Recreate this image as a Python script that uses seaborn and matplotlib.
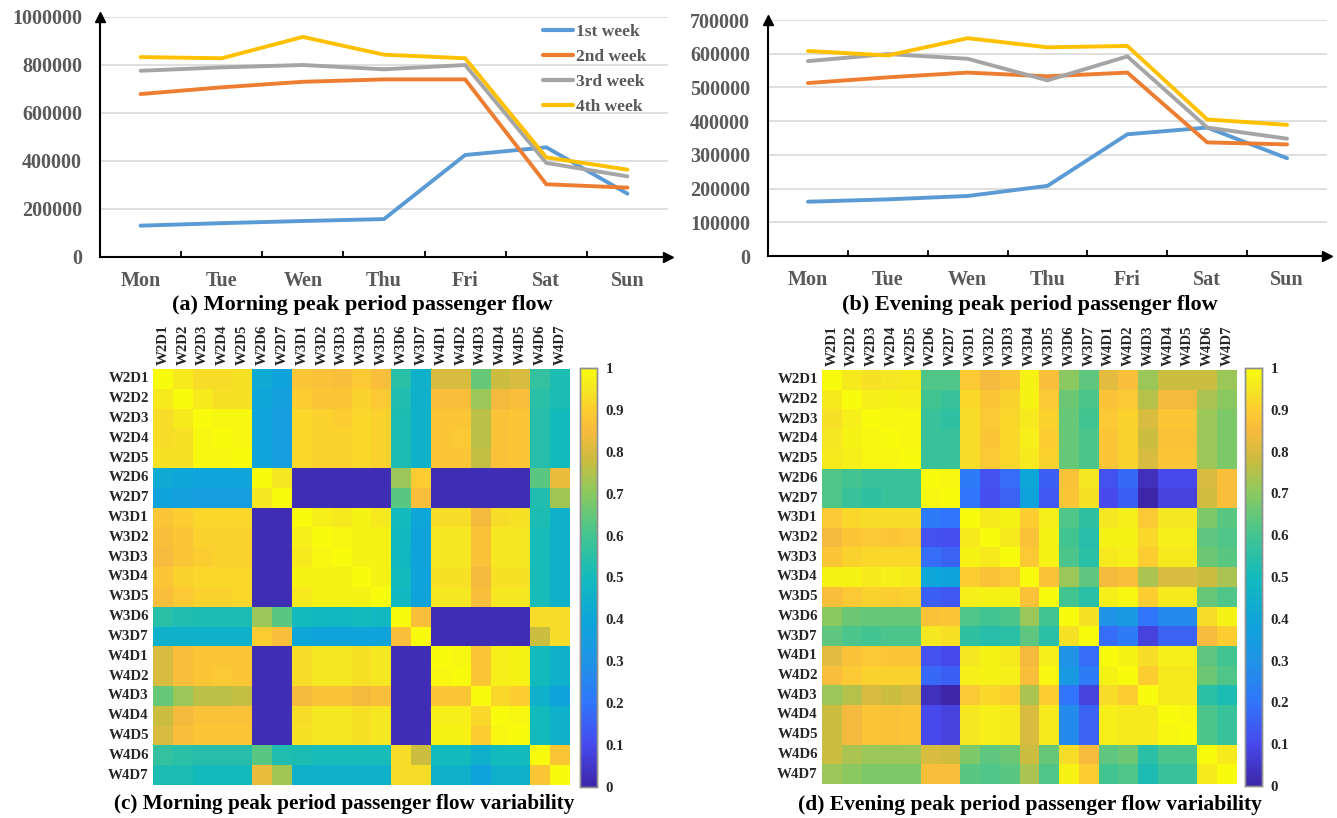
import numpy as np
import pandas as pd
import matplotlib
matplotlib.use("Agg")
import matplotlib.pyplot as plt
from matplotlib.colors import LinearSegmentedColormap
from matplotlib.ticker import FixedLocator
import seaborn as sns

# ---------------- data ----------------
days = ["Mon", "Tue", "Wen", "Thu", "Fri", "Sat", "Sun"]
weeks = ["1st week", "2nd week", "3rd week", "4th week"]

morning_w1 = [130600, 141000, 150000, 158000, 425000, 457000, 264000]
morning_w2 = [679000, 707000, 730000, 740000, 740000, 303000, 289000]
morning_w3 = [776000, 790000, 800000, 782000, 800000, 392000, 336000]
morning_w4 = [833000, 828000, 917000, 843000, 828000, 415000, 364000]

evening_w1 = [161000, 168000, 178000, 208000, 361000, 381000, 290000]
evening_w2 = [513000, 530000, 544000, 533000, 544000, 337000, 331000]
evening_w3 = [578000, 599000, 585000, 521000, 592000, 381000, 348000]
evening_w4 = [608000, 595000, 646000, 619000, 623000, 405000, 389000]

cell_labels = ["W2D1", "W2D2", "W2D3", "W2D4", "W2D5", "W2D6", "W2D7",
               "W3D1", "W3D2", "W3D3", "W3D4", "W3D5", "W3D6", "W3D7",
               "W4D1", "W4D2", "W4D3", "W4D4", "W4D5", "W4D6", "W4D7"]

morning_corr = [
    [1.00, 0.96, 0.93, 0.93, 0.94, 0.42, 0.38, 0.88, 0.87, 0.86, 0.89, 0.86, 0.55, 0.45, 0.80, 0.80, 0.65, 0.78, 0.80, 0.57, 0.52],
    [0.96, 1.00, 0.96, 0.94, 0.94, 0.40, 0.36, 0.90, 0.88, 0.88, 0.91, 0.89, 0.53, 0.45, 0.86, 0.86, 0.72, 0.84, 0.86, 0.55, 0.52],
    [0.93, 0.96, 1.00, 0.99, 0.99, 0.39, 0.35, 0.92, 0.91, 0.90, 0.92, 0.91, 0.52, 0.45, 0.88, 0.88, 0.76, 0.87, 0.88, 0.54, 0.50],
    [0.93, 0.94, 0.99, 1.00, 0.99, 0.39, 0.35, 0.92, 0.91, 0.91, 0.92, 0.91, 0.52, 0.45, 0.88, 0.89, 0.76, 0.87, 0.88, 0.54, 0.50],
    [0.94, 0.94, 0.99, 0.99, 1.00, 0.39, 0.35, 0.92, 0.91, 0.91, 0.92, 0.91, 0.52, 0.45, 0.88, 0.88, 0.77, 0.87, 0.88, 0.54, 0.50],
    [0.42, 0.40, 0.39, 0.39, 0.39, 1.00, 0.95, 0.02, 0.02, 0.02, 0.02, 0.02, 0.72, 0.90, 0.02, 0.02, 0.02, 0.02, 0.02, 0.63, 0.83],
    [0.38, 0.36, 0.35, 0.35, 0.35, 0.95, 1.00, 0.02, 0.02, 0.02, 0.02, 0.02, 0.63, 0.86, 0.02, 0.02, 0.02, 0.02, 0.02, 0.53, 0.73],
    [0.88, 0.90, 0.92, 0.92, 0.92, 0.02, 0.02, 1.00, 0.97, 0.96, 0.98, 0.96, 0.50, 0.40, 0.93, 0.93, 0.84, 0.93, 0.94, 0.52, 0.45],
    [0.86, 0.88, 0.91, 0.91, 0.91, 0.02, 0.02, 0.97, 1.00, 0.99, 0.98, 0.98, 0.49, 0.38, 0.95, 0.95, 0.87, 0.95, 0.95, 0.51, 0.45],
    [0.85, 0.88, 0.90, 0.91, 0.91, 0.02, 0.02, 0.96, 0.99, 1.00, 0.98, 0.98, 0.48, 0.38, 0.95, 0.95, 0.87, 0.95, 0.95, 0.51, 0.45],
    [0.88, 0.91, 0.92, 0.92, 0.92, 0.02, 0.02, 0.98, 0.98, 0.98, 1.00, 0.98, 0.50, 0.38, 0.94, 0.94, 0.84, 0.94, 0.94, 0.51, 0.45],
    [0.86, 0.89, 0.91, 0.91, 0.92, 0.02, 0.02, 0.96, 0.98, 0.98, 0.98, 1.00, 0.49, 0.38, 0.95, 0.95, 0.86, 0.95, 0.95, 0.51, 0.45],
    [0.55, 0.53, 0.52, 0.52, 0.52, 0.72, 0.63, 0.50, 0.49, 0.48, 0.50, 0.49, 1.00, 0.86, 0.02, 0.02, 0.02, 0.02, 0.02, 0.93, 0.93],
    [0.45, 0.45, 0.45, 0.45, 0.45, 0.90, 0.86, 0.40, 0.38, 0.38, 0.38, 0.38, 0.86, 1.00, 0.02, 0.02, 0.02, 0.02, 0.02, 0.78, 0.93],
    [0.80, 0.86, 0.88, 0.88, 0.88, 0.02, 0.02, 0.93, 0.95, 0.95, 0.94, 0.95, 0.02, 0.02, 1.00, 0.99, 0.88, 0.97, 0.98, 0.50, 0.45],
    [0.80, 0.86, 0.88, 0.89, 0.88, 0.02, 0.02, 0.93, 0.95, 0.95, 0.94, 0.95, 0.02, 0.02, 0.99, 1.00, 0.88, 0.97, 0.98, 0.50, 0.45],
    [0.65, 0.72, 0.76, 0.76, 0.77, 0.02, 0.02, 0.84, 0.87, 0.87, 0.84, 0.86, 0.02, 0.02, 0.88, 0.88, 1.00, 0.92, 0.90, 0.45, 0.38],
    [0.78, 0.84, 0.87, 0.87, 0.87, 0.02, 0.02, 0.93, 0.95, 0.95, 0.94, 0.95, 0.02, 0.02, 0.97, 0.97, 0.92, 1.00, 0.99, 0.50, 0.45],
    [0.80, 0.86, 0.88, 0.88, 0.88, 0.02, 0.02, 0.94, 0.95, 0.95, 0.94, 0.95, 0.02, 0.02, 0.98, 0.98, 0.90, 0.99, 1.00, 0.50, 0.45],
    [0.57, 0.55, 0.54, 0.54, 0.54, 0.63, 0.53, 0.52, 0.51, 0.51, 0.51, 0.51, 0.93, 0.78, 0.50, 0.50, 0.45, 0.50, 0.50, 1.00, 0.88],
    [0.52, 0.52, 0.50, 0.50, 0.50, 0.83, 0.73, 0.45, 0.45, 0.45, 0.45, 0.45, 0.93, 0.93, 0.45, 0.45, 0.38, 0.45, 0.45, 0.88, 1.00],
]

evening_corr = [
    [1.00, 0.96, 0.94, 0.95, 0.96, 0.62, 0.62, 0.89, 0.84, 0.88, 0.98, 0.86, 0.70, 0.64, 0.82, 0.86, 0.72, 0.78, 0.78, 0.78, 0.72],
    [0.96, 1.00, 0.97, 0.98, 0.97, 0.60, 0.58, 0.92, 0.88, 0.91, 0.98, 0.89, 0.66, 0.61, 0.87, 0.89, 0.75, 0.84, 0.84, 0.74, 0.70],
    [0.94, 0.97, 1.00, 0.99, 0.99, 0.58, 0.56, 0.93, 0.89, 0.92, 0.96, 0.91, 0.65, 0.60, 0.89, 0.91, 0.80, 0.88, 0.88, 0.72, 0.68],
    [0.95, 0.98, 0.99, 1.00, 0.99, 0.58, 0.58, 0.93, 0.88, 0.92, 0.97, 0.90, 0.65, 0.61, 0.88, 0.91, 0.78, 0.87, 0.87, 0.72, 0.68],
    [0.96, 0.97, 0.99, 0.99, 1.00, 0.58, 0.58, 0.93, 0.89, 0.92, 0.96, 0.91, 0.65, 0.61, 0.88, 0.91, 0.80, 0.88, 0.88, 0.72, 0.68],
    [0.62, 0.60, 0.58, 0.58, 0.58, 1.00, 0.99, 0.22, 0.12, 0.18, 0.40, 0.15, 0.87, 0.95, 0.12, 0.17, 0.03, 0.10, 0.10, 0.80, 0.86],
    [0.62, 0.58, 0.56, 0.58, 0.58, 0.99, 1.00, 0.20, 0.11, 0.16, 0.38, 0.13, 0.88, 0.94, 0.10, 0.15, 0.00, 0.08, 0.08, 0.79, 0.86],
    [0.89, 0.92, 0.93, 0.93, 0.93, 0.22, 0.20, 1.00, 0.96, 0.98, 0.90, 0.97, 0.62, 0.56, 0.95, 0.97, 0.89, 0.95, 0.95, 0.68, 0.63],
    [0.84, 0.88, 0.89, 0.88, 0.89, 0.12, 0.11, 0.96, 1.00, 0.96, 0.87, 0.98, 0.60, 0.54, 0.98, 0.98, 0.92, 0.97, 0.97, 0.64, 0.62],
    [0.88, 0.91, 0.92, 0.92, 0.92, 0.18, 0.16, 0.98, 0.96, 1.00, 0.89, 0.98, 0.61, 0.55, 0.96, 0.97, 0.90, 0.96, 0.96, 0.66, 0.63],
    [0.98, 0.98, 0.96, 0.97, 0.96, 0.40, 0.38, 0.90, 0.87, 0.89, 1.00, 0.87, 0.72, 0.64, 0.84, 0.86, 0.74, 0.80, 0.80, 0.78, 0.74],
    [0.86, 0.89, 0.91, 0.90, 0.91, 0.15, 0.13, 0.97, 0.98, 0.98, 0.87, 1.00, 0.60, 0.55, 0.97, 0.99, 0.90, 0.96, 0.96, 0.65, 0.62],
    [0.70, 0.66, 0.65, 0.65, 0.65, 0.87, 0.88, 0.62, 0.60, 0.61, 0.72, 0.60, 1.00, 0.94, 0.30, 0.33, 0.20, 0.27, 0.27, 0.93, 0.98],
    [0.64, 0.61, 0.60, 0.61, 0.61, 0.95, 0.94, 0.56, 0.54, 0.55, 0.64, 0.55, 0.94, 1.00, 0.18, 0.22, 0.08, 0.16, 0.16, 0.85, 0.90],
    [0.82, 0.87, 0.89, 0.88, 0.88, 0.12, 0.10, 0.95, 0.98, 0.96, 0.84, 0.97, 0.30, 0.18, 1.00, 0.98, 0.93, 0.97, 0.97, 0.64, 0.60],
    [0.86, 0.89, 0.91, 0.91, 0.91, 0.17, 0.15, 0.97, 0.98, 0.97, 0.86, 0.99, 0.33, 0.22, 0.98, 1.00, 0.90, 0.96, 0.96, 0.66, 0.62],
    [0.72, 0.75, 0.80, 0.78, 0.80, 0.03, 0.00, 0.89, 0.92, 0.90, 0.74, 0.90, 0.20, 0.08, 0.93, 0.90, 1.00, 0.96, 0.96, 0.55, 0.52],
    [0.78, 0.84, 0.88, 0.87, 0.88, 0.10, 0.08, 0.95, 0.97, 0.96, 0.80, 0.96, 0.27, 0.16, 0.97, 0.96, 0.96, 1.00, 0.99, 0.61, 0.58],
    [0.78, 0.84, 0.88, 0.87, 0.88, 0.10, 0.08, 0.95, 0.97, 0.96, 0.80, 0.96, 0.27, 0.16, 0.97, 0.96, 0.96, 0.99, 1.00, 0.61, 0.58],
    [0.78, 0.74, 0.72, 0.72, 0.72, 0.80, 0.79, 0.68, 0.64, 0.66, 0.78, 0.65, 0.93, 0.85, 0.64, 0.66, 0.55, 0.61, 0.61, 1.00, 0.96],
    [0.72, 0.70, 0.68, 0.68, 0.68, 0.86, 0.86, 0.63, 0.62, 0.63, 0.74, 0.62, 0.98, 0.90, 0.60, 0.62, 0.52, 0.58, 0.58, 0.96, 1.00],
]

cbar_ticks = [0, 0.1, 0.2, 0.3, 0.4, 0.5, 0.6, 0.7, 0.8, 0.9, 1]
morning_yticks = [0, 200000, 400000, 600000, 800000, 1000000]
evening_yticks = [0, 100000, 200000, 300000, 400000, 500000, 600000, 700000]

# ---------------- style ----------------
week_colors = ["#5B9BD5", "#ED7D31", "#A5A5A5", "#FFC000"]
parula = LinearSegmentedColormap.from_list("parula_like", [
    (0.00, (0.2422, 0.1504, 0.6603)),
    (0.10, (0.2780, 0.2900, 0.9300)),
    (0.20, (0.1900, 0.4600, 0.9800)),
    (0.30, (0.1200, 0.5800, 0.9000)),
    (0.40, (0.0500, 0.6500, 0.8500)),
    (0.50, (0.0700, 0.7300, 0.7400)),
    (0.60, (0.2600, 0.7700, 0.5700)),
    (0.70, (0.5400, 0.7900, 0.3800)),
    (0.78, (0.7900, 0.7400, 0.2500)),
    (0.85, (0.9700, 0.7300, 0.2400)),
    (0.90, (0.9900, 0.8000, 0.1900)),
    (0.95, (0.9600, 0.9000, 0.1400)),
    (1.00, (0.9763, 0.9831, 0.0538)),
])

sns.set_style("white")
plt.rcParams["font.family"] = ["Liberation Serif", "DejaVu Serif"]
plt.rcParams["font.weight"] = "bold"
TICK_GRAY = "#595959"

fig = plt.figure(figsize=(13.37, 8.18), dpi=100)
W, H = 1337.0, 818.0


def fig_axes(left, top, right, bottom):
    return fig.add_axes([left / W, 1 - bottom / H, (right - left) / W, (bottom - top) / H])


def line_panel(ax, series, yticks, show_legend):
    pos = np.arange(len(days))
    frames = []
    for name, vals in zip(weeks, series):
        frames.append(pd.DataFrame({"pos": pos, "flow": vals, "week": name}))
    df = pd.concat(frames, ignore_index=True)
    sns.lineplot(data=df, x="pos", y="flow", hue="week", hue_order=weeks,
                 palette=week_colors, linewidth=2.8, ax=ax, legend=show_legend,
                 solid_joinstyle="miter")
    ax.set_xlim(-0.5, len(days) - 0.5)
    ax.set_ylim(yticks[0], yticks[-1])
    ax.set_yticks(yticks)
    ax.set_yticklabels([str(v) for v in yticks])
    ax.set_xticks(pos)
    ax.set_xticklabels(days)
    ax.xaxis.set_minor_locator(FixedLocator(pos[:-1] + 0.5))
    ax.tick_params(axis="x", which="major", length=0, pad=10, labelsize=14.5,
                   labelcolor=TICK_GRAY)
    ax.tick_params(axis="x", which="minor", direction="in", length=4, width=1.3,
                   color="black", bottom=True)
    ax.tick_params(axis="y", length=0, pad=13, labelsize=14.5, labelcolor=TICK_GRAY)
    for lab in ax.get_xticklabels() + ax.get_yticklabels():
        lab.set_fontweight("bold")
    ax.set_xlabel("")
    ax.set_ylabel("")
    ax.grid(axis="y", color="#D9D9D9", linewidth=1.2)
    ax.grid(axis="x", visible=False)
    for s in ["top", "right"]:
        ax.spines[s].set_visible(False)
    for s in ["left", "bottom"]:
        ax.spines[s].set_color("black")
        ax.spines[s].set_linewidth(1.5)
    ax.plot(1, 0, ">", color="black", markersize=7, transform=ax.transAxes, clip_on=False)
    ax.plot(0, 1, "^", color="black", markersize=7, transform=ax.transAxes, clip_on=False)
    if show_legend:
        leg = ax.legend(loc="upper left", bbox_to_anchor=(543 / W, 1 - 24 / H),
                        bbox_transform=fig.transFigure, frameon=False,
                        borderpad=0, borderaxespad=0,
                        handlelength=1.7, handletextpad=0.2, labelspacing=0.5,
                        prop={"family": "Liberation Serif", "weight": "bold", "size": 12.5})
        for t in leg.get_texts():
            t.set_color(TICK_GRAY)
        for l in leg.get_lines():
            l.set_linewidth(3)


def heat_panel(ax, cax, matrix):
    mat = pd.DataFrame(matrix, index=cell_labels, columns=cell_labels)
    sns.heatmap(mat, ax=ax, cbar_ax=cax, cmap=parula, vmin=0, vmax=1,
                square=False, linewidths=0,
                cbar_kws={"ticks": cbar_ticks})
    ax.xaxis.tick_top()
    ax.set_xticks(np.arange(len(cell_labels)) + 0.5)
    ax.set_xticklabels(cell_labels, rotation=90, fontsize=10.7, fontweight="bold")
    ax.set_yticks(np.arange(len(cell_labels)) + 0.5)
    ax.set_yticklabels(cell_labels, rotation=0, fontsize=10.7, fontweight="bold")
    ax.tick_params(length=0, pad=3)
    ax.set_xlabel("")
    ax.set_ylabel("")
    cax.tick_params(direction="in", length=3, width=0.8, color="#555555",
                    labelsize=10.7, pad=6)
    cax.set_yticklabels([("%g" % t) for t in cbar_ticks])
    for lab in cax.get_yticklabels():
        lab.set_fontweight("bold")
    for s in cax.spines.values():
        s.set_visible(True)
        s.set_edgecolor("#909090")
        s.set_linewidth(1.0)


ax_a = fig_axes(100, 17, 668, 257)
line_panel(ax_a, [morning_w1, morning_w2, morning_w3, morning_w4], morning_yticks, True)
ax_b = fig_axes(768, 20, 1327, 256)
line_panel(ax_b, [evening_w1, evening_w2, evening_w3, evening_w4], evening_yticks, False)

ax_c = fig_axes(153, 369, 570, 785)
cax_c = fig_axes(580, 368, 597, 787)
heat_panel(ax_c, cax_c, morning_corr)

ax_d = fig_axes(822, 370, 1237, 784)
cax_d = fig_axes(1245, 368, 1262, 786)
heat_panel(ax_d, cax_d, evening_corr)

title_kw = dict(ha="center", va="center", fontweight="bold", color="black")
fig.text(362 / W, 1 - 305 / H, "(a) Morning peak period passenger flow", fontsize=16, **title_kw)
fig.text(1030 / W, 1 - 305 / H, "(b) Evening peak period passenger flow", fontsize=16, **title_kw)
fig.text(344 / W, 1 - 804 / H, "(c) Morning peak period passenger flow variability", fontsize=15.3, **title_kw)
fig.text(1030 / W, 1 - 805 / H, "(d) Evening peak period passenger flow variability", fontsize=15.5, **title_kw)

fig.savefig("out.png", dpi=100, facecolor="white")
